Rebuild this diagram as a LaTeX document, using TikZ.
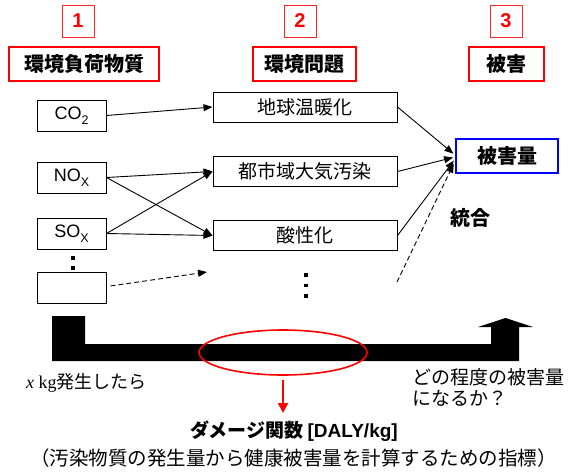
\documentclass[tikz,border=0pt]{standalone}
\usepackage{fontspec}
\setmainfont{Liberation Sans}
\newfontfamily\jp{Noto Sans CJK JP}
\newfontfamily\tms{Liberation Serif}
\usetikzlibrary{arrows.meta,calc,shapes.geometric}
\newcommand\lowsub[1]{\raisebox{-5.5pt}{\fontsize{12.5}{12.5}\selectfont #1}}
\tikzset{
  numbox/.style={draw=red!85, line width=0.8pt, minimum width=32pt, minimum height=32pt, inner sep=0pt, text=red, font=\fontsize{20}{24}\selectfont\bfseries},
  titlebox/.style={draw=red, line width=2pt, minimum height=34pt, inner sep=0pt, font=\jp\bfseries\fontsize{20}{24}\selectfont},
  srcbox/.style={draw, line width=1pt, minimum width=69pt, minimum height=31pt, inner sep=0pt, font=\fontsize{18}{22}\selectfont},
  probbox/.style={draw, line width=1pt, minimum width=184pt, minimum height=30pt, inner sep=0pt, font=\jp\fontsize{19}{23}\selectfont},
  arr/.style={-{Triangle[length=9pt,width=7pt]}, line width=0.9pt},
  dot/.style={rectangle, fill, minimum size=3.2pt, inner sep=0pt},
}
\begin{document}
\begin{tikzpicture}[x=1pt,y=-1pt]
\useasboundingbox (0,0) rectangle (572,471);
% headers
\node[numbox] (n1) at (78,21) {1};
\node[titlebox, minimum width=150pt] (t1) at (84,64) {環境負荷物質};
\node[numbox] (n2) at (300,21) {2};
\node[titlebox, minimum width=103pt] (t2) at (304.5,64) {環境問題};
\node[numbox] (n3) at (506,21) {3};
\node[titlebox, minimum width=75pt] (t3) at (506.5,64) {被害};
% sources
\node[srcbox] (co2) at (71.5,115.5) {CO\lowsub{2}};
\node[srcbox] (nox) at (71.5,177.5) {NO\lowsub{X}};
\node[srcbox] (sox) at (71.5,233.5) {SO\lowsub{X}};
\node[srcbox] (blank) at (71.5,288) {};
\node[dot] (sd1) at (73,258) {};
\node[dot] (sd2) at (73,268) {};
% problems
\node[probbox] (g1) at (305,107) {地球温暖化};
\node[probbox] (g2) at (305,171.5) {都市域大気汚染};
\node[probbox] (g3) at (305,235.5) {酸性化};
\node[dot] (pd1) at (306,275) {};
\node[dot] (pd2) at (306,285.5) {};
\node[dot] (pd3) at (306,296) {};
% damage
\node[draw=blue, line width=2pt, minimum width=102pt, minimum height=34pt, inner sep=0pt, font=\jp\bfseries\fontsize{20}{24}\selectfont] (dmg) at (507,156) {被害量};
\node[font=\jp\bfseries\fontsize{20}{24}\selectfont, inner sep=0pt] (togo) at (470,218) {統合};
% arrows left
\draw[arr] (co2.east) -- (g1.west);
\draw[arr] (nox.east) -- (g2.west);
\draw[arr] (nox.east) -- (g3.west);
\draw[arr] (sox.east) -- (g2.west);
\draw[arr] (sox.east) -- (g3.west);
\coordinate (dtip) at (207,272);
\draw[arr, dashed, dash pattern=on 5pt off 3pt] ($(blank.east)+(4,-2)$) -- (dtip);
% arrows right
\draw[arr, shorten >=2pt] (g1.east) -- ($(dmg.west)+(0,-1)$);
\draw[arr, shorten >=2pt] (g2.east) -- ($(dmg.west)+(0,1)$);
\draw[arr, shorten >=2pt] (g3.east) -- ($(dmg.west)+(0,3)$);
\coordinate (dstart) at (397,282);
\draw[arr, dashed, dash pattern=on 5pt off 3pt, shorten >=3pt] (dstart) -- ($(dmg.west)+(0,5)$);
% big arrow
\fill (52,316) -- (85,316) -- (85,344) -- (491,344) -- (491,327) -- (478,327) -- (505.5,318) -- (533,327) -- (519,327) -- (519,361) -- (52,361) -- cycle;
\node[ellipse, draw=red, line width=1.6pt, minimum width=168pt, minimum height=45pt, inner sep=0pt] (ell) at (283,352.5) {};
\coordinate (rtip) at (283,413);
\draw[red, line width=2pt, -{Triangle[length=10pt,width=10pt]}] ($(ell.south)+(0,4)$) -- (rtip);
% texts
\node[anchor=west, inner sep=0pt, font=\fontsize{18}{22}\selectfont] (xkg) at (26,383) {\tms\textit{x} kg\jp 発生したら};
\node[anchor=base west, inner sep=0pt, align=left, font=\jp\fontsize{19}{21}\selectfont] (q) at (412,405) {どの程度の被害量\\になるか？};
\node[anchor=base, inner sep=0pt, font=\jp\bfseries\fontsize{19}{23}\selectfont] (dfun) at (294,437) {ダメージ関数 {\rmfamily [DALY/kg]}};
\node[anchor=base, inner sep=0pt, font=\jp\fontsize{19.5}{23}\selectfont] (note) at (293.5,465) {（汚染物質の発生量から健康被害量を計算するための指標）};
\end{tikzpicture}
\end{document}
